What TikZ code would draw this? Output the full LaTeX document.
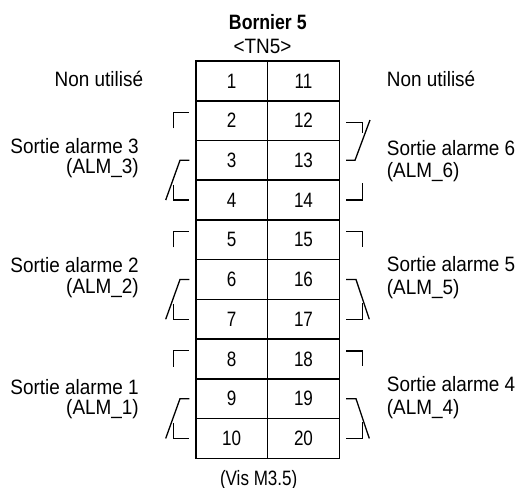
\documentclass[tikz,border=0pt]{standalone}
\usepackage{fontspec}
\setmainfont{Liberation Sans}[FakeStretch=0.91]
\newfontfamily\condfont{Liberation Sans}[FakeStretch=0.82]
\newfontfamily\titlefont{Liberation Sans}[FakeStretch=0.85]
\begin{document}
\begin{tikzpicture}[x=1pt,y=-1pt,
  font=\fontsize{20.8}{24}\selectfont,
  cell/.style={draw, line width=1.6pt, minimum width=71.8pt, minimum height=39.73pt,
    inner sep=0pt, font=\condfont\fontsize{20.8}{24}\selectfont},
  lbl/.style={inner sep=0pt},
  lblL/.style={inner sep=0pt, align=right, anchor=north east, font=\fontsize{20.8}{20.5}\selectfont},
  lblR/.style={inner sep=0pt, align=left, anchor=north west, font=\fontsize{20.8}{22.5}\selectfont},
  contact/.style={line width=1.3pt}]
\useasboundingbox (0,0) rectangle (515,488);

% titles
\node[lbl, anchor=base, font=\titlefont\bfseries\fontsize{20.8}{24}\selectfont] (title) at (267.8,29.3) {Bornier 5};
\node[lbl, anchor=base] (tn) at (262.5,53.3) {<TN5>};
\node[lbl, anchor=base, font=\condfont\fontsize{20.8}{24}\selectfont] (vis) at (258.7,485) {(Vis M3.5)};

% terminal cells
\foreach \i in {1,...,10}{
  \pgfmathtruncatemacro\j{\i+10}
  \node[cell] (a\i) at (231.6,{61+(\i-0.5)*39.73}) {\i};
  \node[cell] (b\i) at (303.5,{61+(\i-0.5)*39.73}) {\j};
}

% left relay contacts (alarms 3, 2, 1)
\foreach \b in {2,5,8}{
  \pgfmathsetmacro\ya{61+(\b-0.5)*39.73}
  \pgfmathsetmacro\yb{\ya+39.73}
  \pgfmathsetmacro\yc{\yb+39.73}
  \draw[contact] (173.3,\ya+7.7) -- (173.3,\ya-8.3) -- (189.3,\ya-8.3);
  \draw[contact] (189.3,\yb) -- (180,\yb) -- (165.7,\yc);
  \draw[contact] (173.3,\yc-15.5) -- (173.3,\yc) -- (189.3,\yc);
}

% right relay contact alarm 6
\draw[contact] (346,122.3) -- (362.3,122.3) -- (362.3,132.7);
\draw[contact] (370,120) -- (355,160.3) -- (346,160.3);
\draw[contact] (362.3,183.3) -- (362.3,200) -- (346,200);

% right relay contacts alarms 5, 4
\foreach \b in {5,8}{
  \pgfmathsetmacro\ya{61+(\b-0.5)*39.73}
  \pgfmathsetmacro\yb{\ya+39.73}
  \pgfmathsetmacro\yc{\yb+39.73}
  \draw[contact] (346,\ya-8) -- (362.3,\ya-8) -- (362.3,\ya+7.5);
  \draw[contact] (346,\yb) -- (356,\yb) -- (369.3,\yc);
  \draw[contact] (362.3,\yc-16) -- (362.3,\yc) -- (346,\yc);
}

% left labels
\node[lbl, anchor=base east] (nuL) at (143.3,86.3) {Non utilisé};
\node[lblL] (s3) at (139,138) {Sortie alarme 3\\(ALM\_3)};
\node[lblL] (s2) at (139,257.3) {Sortie alarme 2\\(ALM\_2)};
\node[lblL] (s1) at (139,379) {Sortie alarme 1\\(ALM\_1)};

% right labels
\node[lbl, anchor=base west] (nuR) at (386.7,86.5) {Non utilisé};
\node[lblR] (s6) at (386.7,140) {Sortie alarme 6\\(ALM\_6)};
\node[lblR] (s5) at (386.7,256.7) {Sortie alarme 5\\(ALM\_5)};
\node[lblR] (s4) at (386.7,376.7) {Sortie alarme 4\\(ALM\_4)};
\end{tikzpicture}
\end{document}
